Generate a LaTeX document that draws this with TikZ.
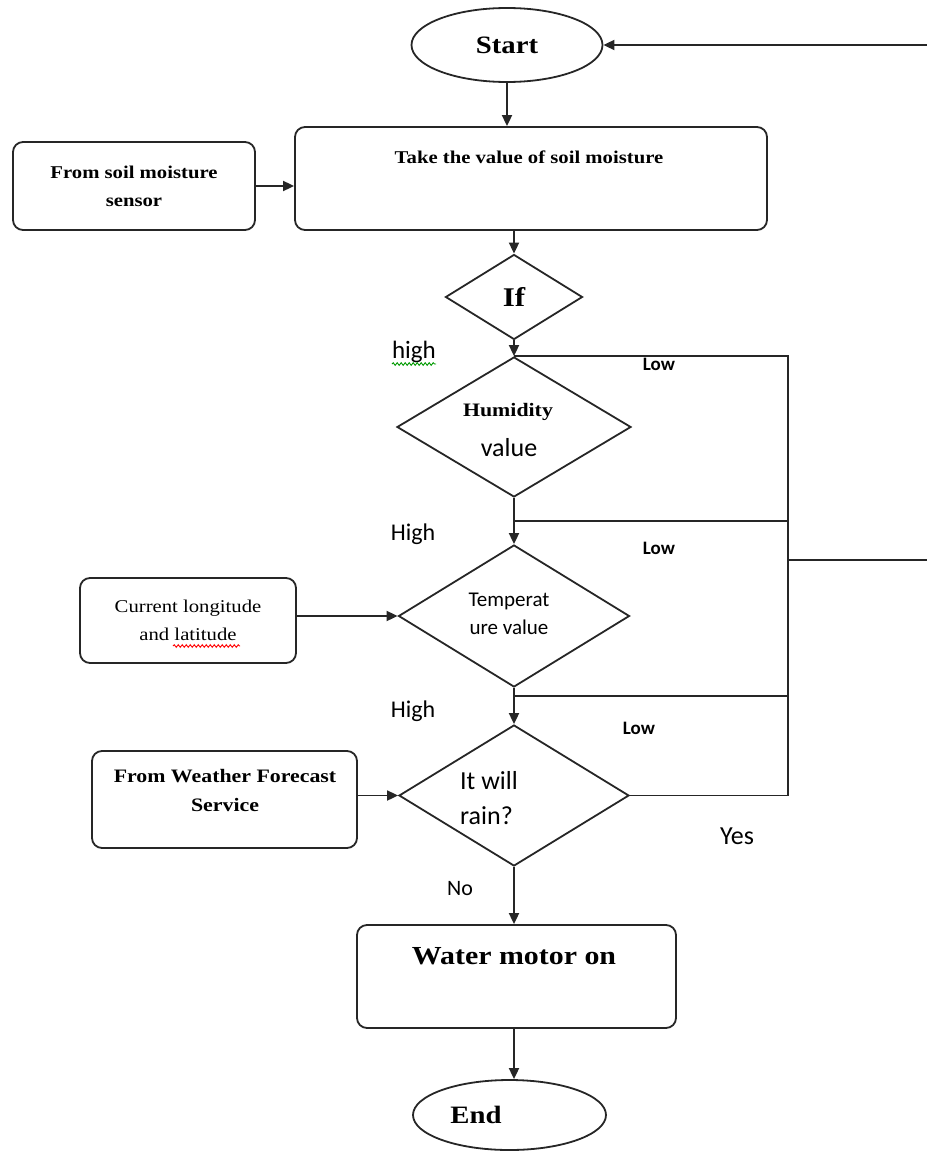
\documentclass[tikz,border=0pt]{standalone}
\usepackage{fontspec}
\setmainfont{Liberation Serif}[FakeStretch=1.15]
\newfontfamily\calibri{Carlito}
\usepackage{tikz}
\usetikzlibrary{shapes.geometric, arrows.meta, decorations.pathmorphing}

\tikzset{
  term/.style={ellipse, draw=black!85, line width=1.8pt, inner sep=0pt},
  box/.style={rectangle, rounded corners=10pt, draw=black!85, line width=1.8pt, inner sep=0pt, align=center},
  decision/.style={diamond, draw=black!85, line width=1.8pt, inner sep=0pt},
  arr/.style={-{Triangle[length=11pt,width=10pt]}, line width=1.8pt, draw=black!85},
  lnk/.style={line width=1.8pt, draw=black!85},
  lbl/.style={font=\calibri\fontsize{24}{26}\selectfont, inner sep=0pt},
  lowlbl/.style={font=\calibri\bfseries\fontsize{19}{21}\selectfont, inner sep=0pt},
  spell/.style={draw=#1, line width=0.9pt, decorate, decoration={snake, amplitude=1.3pt, segment length=4pt}},
}

\begin{document}
\begin{tikzpicture}[x=1pt, y=-1pt]
    \useasboundingbox (0,0) rectangle (926,1153);
    % terminals and boxes
    \node[term, minimum width=191pt, minimum height=74pt, font=\bfseries\fontsize{25}{28}\selectfont] (start) at (507,45) {Start};
    \node[box, minimum width=472pt, minimum height=103pt] (take) at (531,178.5) {};
    \node[font=\bfseries\fontsize{18}{20}\selectfont] (taketext) at (529,157) {Take the value of soil moisture};
    \node[box, minimum width=242pt, minimum height=88pt, font=\bfseries\fontsize{18}{28}\selectfont] (soil) at (134,186) {From soil moisture\\sensor};
    \node[box, minimum width=216pt, minimum height=85pt, font=\fontsize{18}{28}\selectfont] (lonlat) at (188,620.5) {Current longitude\\and latitude};
    \node[box, minimum width=265pt, minimum height=97pt] (weather) at (224.5,799.5) {};
    \node[font=\bfseries\fontsize{19}{29}\selectfont, align=center] (weathertext) at (225,790) {From Weather Forecast\\Service};
    \node[box, minimum width=319pt, minimum height=103pt] (motor) at (516.5,976.5) {};
    \node[font=\bfseries\fontsize{26}{28}\selectfont] (motortext) at (514,956) {Water motor on};
    \node[term, minimum width=193pt, minimum height=70pt] (end) at (509.5,1115) {};
    \node[font=\bfseries\fontsize{25}{28}\selectfont] (endtext) at (476,1115) {End};

    % decisions
    \node[decision, minimum width=137pt, minimum height=85pt, font=\bfseries\fontsize{27}{30}\selectfont] (if) at (514,297) {If};
    \node[decision, minimum width=234pt, minimum height=140pt] (hum) at (514,427) {};
    \node[font=\bfseries\fontsize{19}{20}\selectfont] (humtext) at (508,412) {Humidity};
    \node[font=\calibri\fontsize{26}{28}\selectfont] (humval) at (509,448) {value};
    \node[decision, minimum width=231pt, minimum height=142pt] (temp) at (514,616) {};
    \node[font=\calibri\fontsize{21}{28}\selectfont, align=center] (temptext) at (509,614) {Temperat\\ure value};
    \node[decision, minimum width=230pt, minimum height=141pt] (rain) at (514,795.5) {};
    \node[font=\calibri\fontsize{26}{35}\selectfont, align=left] (raintext) at (489,798) {It will\\rain?};

    % labels
    \node[lbl, font=\calibri\fontsize{25}{27}\selectfont] (high1) at (414,352) {high};
    \node[lbl] (high2) at (413,534) {High};
    \node[lbl] (high3) at (413,711) {High};
    \node[lowlbl] (low1) at (659,364) {Low};
    \node[lowlbl] (low2) at (659,548) {Low};
    \node[lowlbl] (low3) at (639,728) {Low};
    \node[lbl, font=\calibri\fontsize{26}{28}\selectfont] (yes) at (737,836) {Yes};
    \node[lbl, font=\calibri\fontsize{22}{24}\selectfont] (no) at (460,889) {No};
    \draw[spell=green!60!black] ([yshift=-1pt]high1.south west) -- ([yshift=-1pt]high1.south east);
    \draw[spell=red] (173,646) -- (240,646);

    % main flow
    \draw[arr] (start.south) -- (start.south |- take.north);
    \draw[arr] (soil.east) -- (soil.east -| take.west);
    \draw[arr] (if.north |- take.south) -- (if.north);
    \draw[arr] (if.south) -- (hum.north);
    \draw[arr] (hum.south) -- (temp.north);
    \draw[arr] (lonlat.east |- temp.west) -- (temp.west);
    \draw[arr] (temp.south) -- (rain.north);
    \draw[arr] (weather.east |- rain.west) -- (rain.west);
    \draw[arr] (rain.south) -- (rain.south |- motor.north);
    \draw[arr] (rain.south |- motor.south) -- (rain.south |- end.north);

    % low branches back to start
    \coordinate (lbus) at (788,560);
    \coordinate (j1) at (514,521);
    \coordinate (j2) at (514,696);
    \coordinate (ret) at (934,560);
    \draw[lnk] (rain.east) -| (hum.north -| lbus) -- (hum.north);
    \draw[lnk] (j1) -- (j1 -| lbus);
    \draw[lnk] (j2) -- (j2 -| lbus);
    \draw[arr] (lbus) -- (ret) |- (start.east);
\end{tikzpicture}
\end{document}
